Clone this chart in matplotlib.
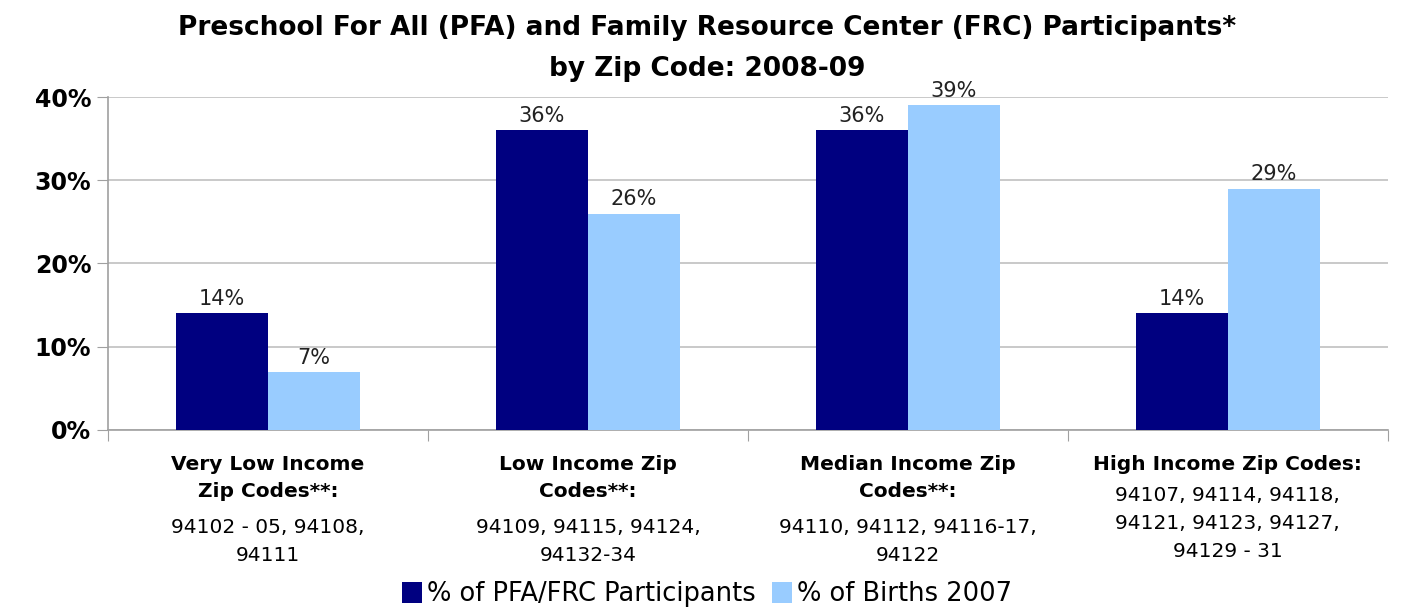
import numpy as np
import matplotlib.pyplot as plt

headers = ["Very Low Income\nZip Codes**:", "Low Income Zip\nCodes**:",
           "Median Income Zip\nCodes**:", "High Income Zip Codes:"]
zips = ["94102 - 05, 94108,\n94111", "94109, 94115, 94124,\n94132-34",
        "94110, 94112, 94116-17,\n94122", "94107, 94114, 94118,\n94121, 94123, 94127,\n94129 - 31"]
pfa = [14, 36, 36, 14]
births = [7, 26, 39, 29]
series_names = ["% of PFA/FRC Participants", "% of Births 2007"]

dark = "#000080"
light = "#99CCFF"

fig = plt.figure(figsize=(14.14, 6.12), dpi=100)
ax = fig.add_axes([0.0764, 0.2974, 0.905, 0.5441])

x = np.arange(len(headers))
w = 0.2875
b1 = ax.bar(x - w / 2, pfa, w, color=dark, label=series_names[0], zorder=3)
b2 = ax.bar(x + w / 2, births, w, color=light, label=series_names[1], zorder=3)

for bars in (b1, b2):
    for r in bars:
        ax.annotate(f"{r.get_height():.0f}%", (r.get_x() + r.get_width() / 2, r.get_height()),
                    xytext=(0, 3), textcoords="offset points", ha="center", va="bottom",
                    fontsize=15, color="#222222", zorder=4)

ax.set_xlim(-0.5, len(headers) - 0.5)
ax.set_ylim(0, 40)
ax.set_yticks([0, 10, 20, 30, 40])
ax.set_yticklabels([f"{v}%" for v in [0, 10, 20, 30, 40]], fontsize=17, fontweight="bold")
ax.yaxis.grid(True, color="#C0C0C0", linewidth=1.2, zorder=0)
ax.tick_params(axis="y", length=8, color="#A0A0A0", pad=4)
ax.set_xticks(np.arange(len(headers) + 1) - 0.5)
ax.set_xticklabels([])
ax.tick_params(axis="x", length=8, color="#A0A0A0")
for s in ["top", "right"]:
    ax.spines[s].set_visible(False)
for s in ["left", "bottom"]:
    ax.spines[s].set_color("#A0A0A0")
    ax.spines[s].set_linewidth(1.2)

tr = ax.get_xaxis_transform()
for i in range(len(headers)):
    ax.text(i, -0.075, headers[i], transform=tr, ha="center", va="top",
            fontsize=14.5, fontweight="bold", linespacing=1.55)
    n = headers[i].count("\n") + 1
    ax.text(i, -0.078 - n * 0.09 - 0.006 * (n > 1), zips[i], transform=tr, ha="center", va="top",
            fontsize=14.5, linespacing=1.6)

fig.suptitle("Preschool For All (PFA) and Family Resource Center (FRC) Participants*\nby Zip Code: 2008-09",
             y=0.975, fontsize=19, fontweight="bold", linespacing=1.75)

fig.legend(loc="lower center", bbox_to_anchor=(0.5, -0.03), ncol=2, frameon=False,
           fontsize=18.5, handlelength=0.8, handleheight=0.9, handletextpad=0.2, columnspacing=0.6)

fig.savefig("out.png", dpi=100)
